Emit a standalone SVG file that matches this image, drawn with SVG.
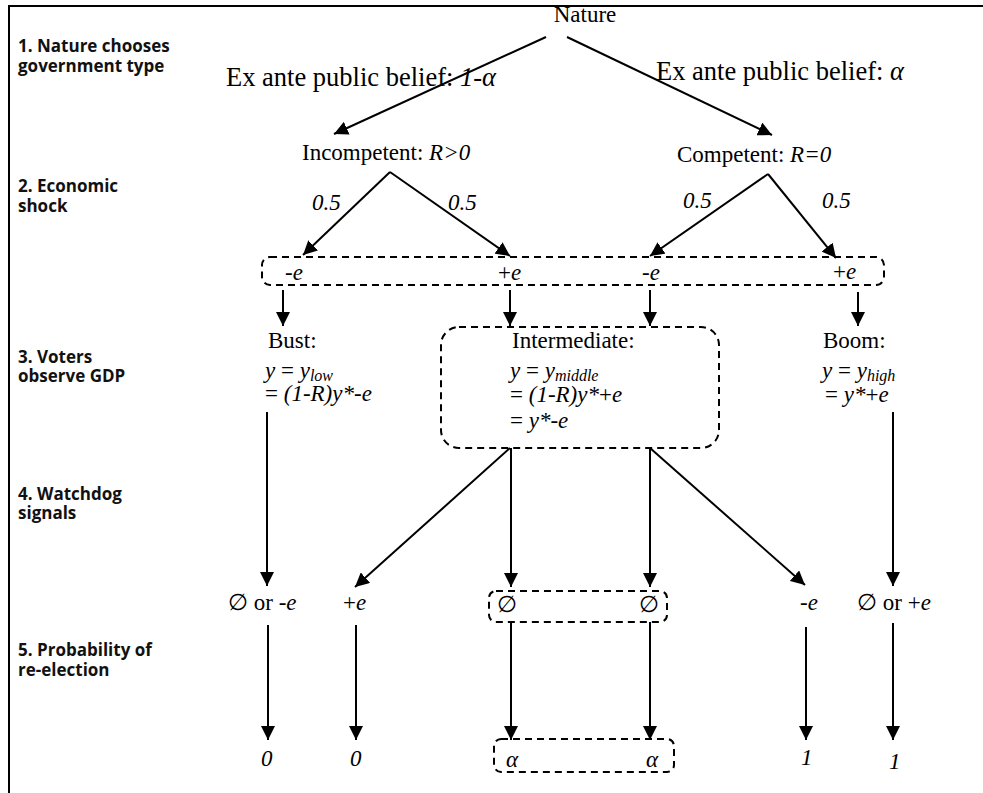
<svg xmlns="http://www.w3.org/2000/svg" width="983" height="793" viewBox="0 0 983 793">
<style>
  .t { font-family: "Liberation Serif", "Times New Roman", serif; font-size: 23px; fill: #000; }
  .big { font-size: 26.5px; }
  .i { font-style: italic; }
  .sub { font-size: 16px; }
  .lab { font-family: "Open Sans", "DejaVu Sans", sans-serif; font-weight: bold; font-size: 17px; fill: #111; }
  .ln { stroke: #000; stroke-width: 2; fill: none; }
  .arr { stroke: #000; stroke-width: 2; fill: none; marker-end: url(#ah); }
  .dash { stroke: #000; stroke-width: 2; fill: none; stroke-dasharray: 7 5; }
</style>
<defs>
  <marker id="ah" viewBox="0 0 14 14" refX="14" refY="7" markerWidth="14" markerHeight="14" markerUnits="userSpaceOnUse" orient="auto">
    <path d="M0,0 L14,7 L0,14 z" fill="#000"/>
  </marker>
</defs>
<rect width="983" height="793" fill="#fff"/>
<g id="frame">
  <path class="ln" d="M9,793 L9,6 L983,6"/>
</g>
<g id="stage-labels">
  <text class="lab" x="18" y="52">1. Nature chooses</text>
  <text class="lab" x="18" y="72">government type</text>
  <text class="lab" x="18" y="192">2. Economic</text>
  <text class="lab" x="18" y="212">shock</text>
  <text class="lab" x="18" y="363">3. Voters</text>
  <text class="lab" x="18" y="382">observe GDP</text>
  <text class="lab" x="18" y="500">4. Watchdog</text>
  <text class="lab" x="18" y="519">signals</text>
  <text class="lab" x="18" y="656">5. Probability of</text>
  <text class="lab" x="18" y="676">re-election</text>
</g>
<g id="connectors">
  <line class="arr" x1="546" y1="37" x2="334" y2="134"/>
  <line class="arr" x1="567" y1="37" x2="772" y2="135"/>
  <line class="arr" x1="390" y1="172" x2="303" y2="255"/>
  <line class="arr" x1="390" y1="172" x2="510" y2="256"/>
  <line class="arr" x1="768" y1="174" x2="650" y2="256"/>
  <line class="arr" x1="768" y1="174" x2="836" y2="258"/>
  <line class="arr" x1="283" y1="290" x2="283" y2="326"/>
  <line class="arr" x1="510" y1="290" x2="510" y2="326"/>
  <line class="arr" x1="650" y1="290" x2="650" y2="326"/>
  <line class="arr" x1="858" y1="292" x2="858" y2="326"/>
  <line class="arr" x1="267" y1="412" x2="267" y2="586"/>
  <line class="arr" x1="510" y1="448" x2="355" y2="587"/>
  <line class="arr" x1="511" y1="448" x2="511" y2="587"/>
  <line class="arr" x1="650" y1="448" x2="650" y2="587"/>
  <line class="arr" x1="650" y1="448" x2="805" y2="585"/>
  <line class="arr" x1="893" y1="412" x2="893" y2="586"/>
  <line class="arr" x1="268" y1="625" x2="268" y2="740"/>
  <line class="arr" x1="356" y1="625" x2="356" y2="740"/>
  <line class="arr" x1="511" y1="622" x2="511" y2="740"/>
  <line class="arr" x1="650" y1="622" x2="650" y2="740"/>
  <line class="arr" x1="806" y1="627" x2="806" y2="740"/>
  <line class="arr" x1="893" y1="623" x2="893" y2="740"/>
</g>
<g id="nature">
  <text class="t" x="585" y="22" text-anchor="middle">Nature</text>
</g>
<g id="belief-left">
  <text class="t big" x="226" y="86">Ex ante public belief: <tspan class="i">1-α</tspan></text>
</g>
<g id="belief-right">
  <text class="t big" x="656" y="80">Ex ante public belief: <tspan class="i">α</tspan></text>
</g>
<g id="incompetent">
  <text class="t" x="302" y="160">Incompetent: <tspan class="i">R&gt;0</tspan></text>
</g>
<g id="competent">
  <text class="t" x="677" y="162">Competent: <tspan class="i">R=0</tspan></text>
</g>
<g id="probabilities">
  <text class="t i" x="312" y="210">0.5</text>
  <text class="t i" x="448" y="210">0.5</text>
  <text class="t i" x="683" y="208">0.5</text>
  <text class="t i" x="822" y="208">0.5</text>
</g>
<g id="shock-set">
  <rect class="dash" x="262" y="257" width="622" height="28" rx="8"/>
  <text class="t i" x="285" y="280">-e</text>
  <text class="t" x="498" y="280">+<tspan class="i">e</tspan></text>
  <text class="t i" x="642" y="280">-e</text>
  <text class="t" x="833" y="279">+<tspan class="i">e</tspan></text>
</g>
<g id="bust">
  <text class="t" x="268" y="348">Bust:</text>
  <text class="t" x="265" y="378"><tspan class="i">y</tspan> = <tspan class="i">y</tspan><tspan class="i sub" dy="3">low</tspan></text>
  <text class="t" x="265" y="401">= <tspan class="i">(1-R)y*-e</tspan></text>
</g>
<g id="intermediate">
  <rect class="dash" x="441" y="327" width="278" height="121" rx="18"/>
  <text class="t" x="512" y="348">Intermediate:</text>
  <text class="t" x="510" y="378"><tspan class="i">y</tspan> = <tspan class="i">y</tspan><tspan class="i sub" dy="3">middle</tspan></text>
  <text class="t" x="510" y="402">= <tspan class="i">(1-R)y*</tspan>+<tspan class="i">e</tspan></text>
  <text class="t" x="510" y="428">= <tspan class="i">y*-e</tspan></text>
</g>
<g id="boom">
  <text class="t" x="823" y="348">Boom:</text>
  <text class="t" x="822" y="378"><tspan class="i">y</tspan> = <tspan class="i">y</tspan><tspan class="i sub" dy="3">high</tspan></text>
  <text class="t" x="825" y="402">= <tspan class="i">y*</tspan>+<tspan class="i">e</tspan></text>
</g>
<g id="signals">
  <text class="t" x="228" y="610">∅ or -<tspan class="i">e</tspan></text>
  <text class="t" x="343" y="610">+<tspan class="i">e</tspan></text>
  <rect class="dash" x="489" y="591" width="178" height="31" rx="7"/>
  <text class="t" x="497" y="612">∅</text>
  <text class="t" x="639" y="612">∅</text>
  <text class="t i" x="800" y="610">-e</text>
  <text class="t" x="857" y="610">∅ or +<tspan class="i">e</tspan></text>
</g>
<g id="reelection">
  <text class="t i" x="261" y="766">0</text>
  <text class="t i" x="350" y="766">0</text>
  <rect class="dash" x="494" y="739" width="180" height="33" rx="7"/>
  <text class="t i" x="506" y="767">α</text>
  <text class="t i" x="646" y="767">α</text>
  <text class="t i" x="801" y="765">1</text>
  <text class="t i" x="889" y="769">1</text>
</g>
</svg>
